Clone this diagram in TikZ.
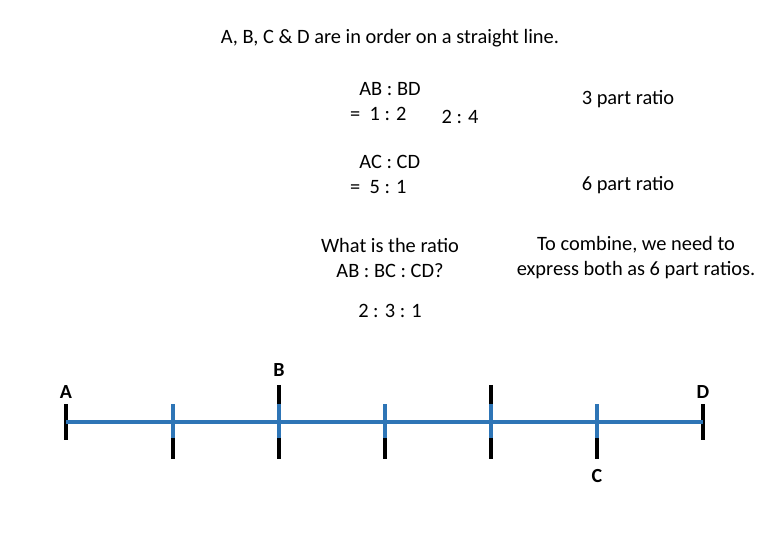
\documentclass[tikz,border=0pt]{standalone}
\usepackage{fontspec}
\setmainfont{Carlito}
\begin{document}
\begin{tikzpicture}[x=1pt,y=-1pt,
  txt/.style={font=\fontsize{20.4}{25}\selectfont,align=center,inner sep=0pt},
  lbl/.style={font=\fontsize{20}{24}\selectfont\bfseries,inner sep=0pt},
  blk/.style={line width=3.5pt},
  blu/.style={line width=3.5pt,draw={rgb,255:red,46;green,117;blue,182}}]
\useasboundingbox (0,0) rectangle (780,540);
\node[txt] (t) at (390,38) {A, B, C \& D are in order on a straight line.};
\node[txt,align=left,anchor=west] (r1) at (350,102) {\ \ AB : BD\\= \ 1 : 2};
\node[txt] (r1b) at (460,117) {2 : 4};
\node[txt] (p3) at (628,99) {3 part ratio};
\node[txt,align=left,anchor=west] (r2) at (350,174) {\ \ AC : CD\\= \ 5 : 1};
\node[txt] (p6) at (628,185) {6 part ratio};
\node[txt] (q) at (390,258) {What is the ratio\\AB : BC : CD?};
\node[txt] (c) at (636,258) {To combine, we need to\\express both as 6 part ratios.};
\node[txt] (ans) at (390,311) {2 : 3 : 1};
\foreach \i/\x in {0/66,1/173,2/279,3/385,4/491,5/597,6/703}{
  \coordinate (k\i) at (\x,422);
}
\draw[blk] (66,404) -- (66,440);
\draw[blk] (703,404) -- (703,440);
\foreach \x in {173,279,385,491,597} \draw[blk] (\x,438) -- (\x,459);
\foreach \x in {279,491} \draw[blk] (\x,385) -- (\x,404);
\draw[blu] (k0) -- (k6);
\foreach \x in {173,279,385,491,597} \draw[blu] (\x,404) -- (\x,438);
\node[lbl] (A) at (66,392) {A};
\node[lbl] (B) at (279,370) {B};
\node[lbl] (D) at (703,392) {D};
\node[lbl] (C) at (597,476) {C};
\end{tikzpicture}
\end{document}
